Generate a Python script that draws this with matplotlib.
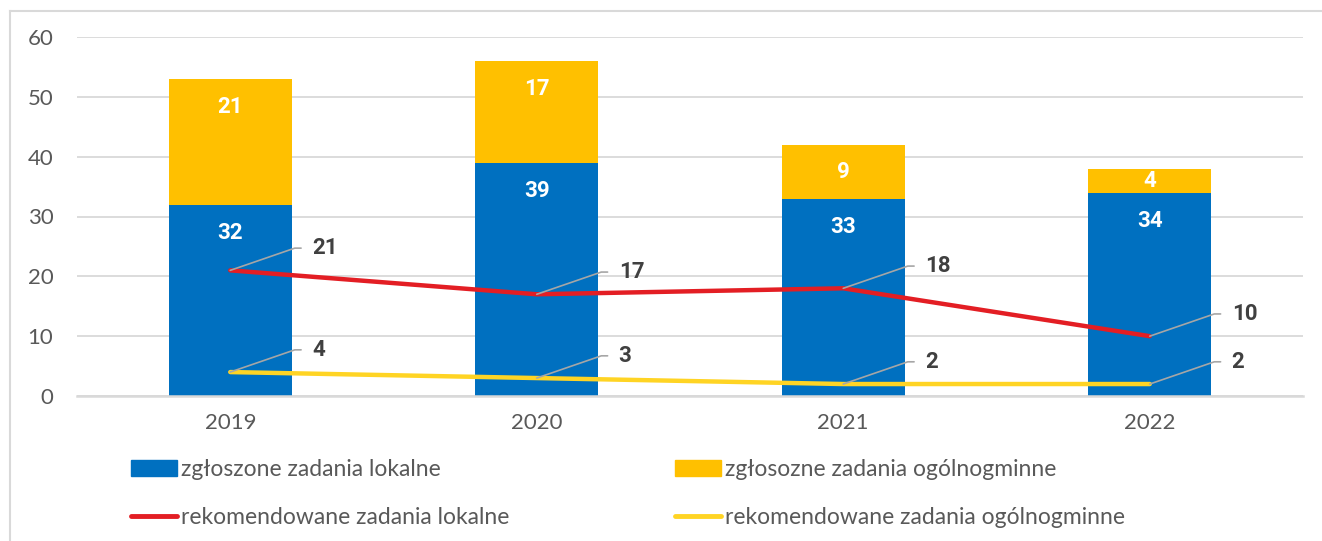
import matplotlib.pyplot as plt
import numpy as np
from matplotlib.patches import Patch
from matplotlib.lines import Line2D

years = ['2019', '2020', '2021', '2022']
zgl_lokalne = [32, 39, 33, 34]
zgl_ogolne = [21, 17, 9, 4]
rek_lokalne = [21, 17, 18, 10]
rek_ogolne = [4, 3, 2, 2]

blue = '#0070C0'
gold = '#FFC000'
red = '#E31E24'
yellow = '#FFD424'
txt = '#595959'
grid = '#D9D9D9'

plt.rcParams['font.family'] = ['Lato', 'DejaVu Sans']
numfont = dict(family=['Roboto', 'DejaVu Sans'], fontweight='bold', fontsize=16)

fig = plt.figure(figsize=(13.22, 5.41), dpi=100)
ax = fig.add_axes([77 / 1322, 1 - 396 / 541, (1303 - 77) / 1322, (396 - 37) / 541])

x = np.arange(len(years))
w = 0.4
ax.bar(x, zgl_lokalne, w, color=blue, zorder=2)
ax.bar(x, zgl_ogolne, w, bottom=zgl_lokalne, color=gold, zorder=2)


def seg_label(xi, bottom, val):
    # inside-end label, pulled to the middle when the segment is short
    y = max(bottom + val - 4.7, bottom + val / 2)
    ax.text(xi, y, str(val), ha='center', va='center', color='white', zorder=5, **numfont)


for xi, lo, og in zip(x, zgl_lokalne, zgl_ogolne):
    seg_label(xi, 0, lo)
    seg_label(xi, lo, og)

ax.plot(x, rek_lokalne, color=red, lw=3.2, solid_capstyle='round', zorder=3)
ax.plot(x, rek_ogolne, color=yellow, lw=3.2, solid_capstyle='round', zorder=3)

# labels for the lines with leader lines
for series in (rek_lokalne, rek_ogolne):
    for xi, v in zip(x, series):
        ax.annotate(str(v), (xi, v), xytext=(59, 16), textcoords='offset points',
                    ha='left', va='center', color='#404040', zorder=6,
                    arrowprops=dict(arrowstyle='-', color='#A6A6A6', lw=1.2,
                                    connectionstyle='angle,angleA=0,angleB=19,rad=0',
                                    relpos=(0, 0.5), shrinkA=6, shrinkB=0),
                    **numfont)

ax.set_xlim(-0.5, 3.5)
ax.set_ylim(0, 60)
ax.set_yticks(range(0, 61, 10))
ax.set_xticks(x)
ax.set_xticklabels(years)
ax.yaxis.grid(True, color=grid, lw=1.3, zorder=0)
ax.set_axisbelow(True)
for s in ['top', 'right', 'left']:
    ax.spines[s].set_visible(False)
ax.spines['bottom'].set_color(grid)
ax.spines['bottom'].set_linewidth(1.8)
ax.tick_params(axis='both', length=0, labelsize=16, labelcolor=txt)
ax.tick_params(axis='y', pad=17)
ax.tick_params(axis='x', pad=12)

# legend in two columns
h1 = [Patch(color=blue), Line2D([], [], color=red, lw=3.5, solid_capstyle='round')]
l1 = ['zgłoszone zadania lokalne', 'rekomendowane zadania lokalne']
h2 = [Patch(color=gold), Line2D([], [], color=yellow, lw=3.5, solid_capstyle='round')]
l2 = ['zgłosozne zadania ogólnogminne', 'rekomendowane zadania ogólnogminne']
for h, l, xa in ((h1, l1, 131), (h2, l2, 675)):
    fig.legend(h, l, loc='upper left', bbox_to_anchor=(xa / 1322, 1 - 459 / 541),
               frameon=False, fontsize=16.5, labelcolor=txt, handlelength=2.0,
               handleheight=0.75, handletextpad=0.2, labelspacing=1.2, borderpad=0,
               borderaxespad=0)

# outer frame of the chart area
fig.add_artist(Line2D([10 / 1322, 10 / 1322], [0, 1 - 11 / 541], color=grid, lw=1.5))
fig.add_artist(Line2D([10 / 1322, 1], [1 - 11 / 541, 1 - 11 / 541], color=grid, lw=1.5))

fig.savefig('out.png', dpi=100)
